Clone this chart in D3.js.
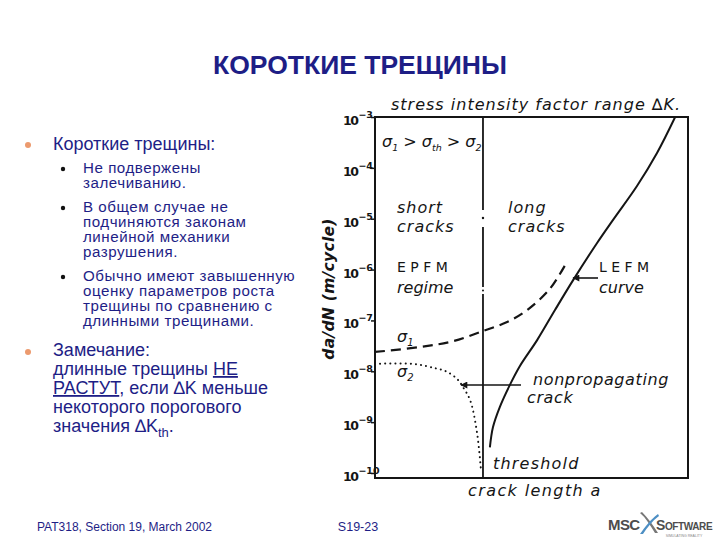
<!DOCTYPE html>
<html><head><meta charset="utf-8">
<script src="https://cdn.jsdelivr.net/npm/d3@7/dist/d3.min.js"></script>
<style>body{margin:0;background:#fff}svg{display:block}</style>
</head><body>
<svg id="c" width="720" height="540"></svg>
<script>
// ---- data ----
const yTicks = [1e-3, 1e-4, 1e-5, 1e-6, 1e-7, 1e-8, 1e-9, 1e-10];
const yTickExp = ["−3", "−4", "−5", "−6", "−7", "−8", "−9", "−10"];
const thresholdA = 34.5;
const lefmA    = [36.7, 37.7, 39.9, 43.1, 46.3, 51.8, 57.5, 63.3, 70.9, 76.0, 83.7, 90.1, 95.9];
const lefmRate = [3.2e-10, 8.0e-10, 2.0e-9, 5.4e-9, 1.27e-8, 4.1e-8, 1.6e-7, 6.2e-7, 3.3e-6, 9.4e-6, 4.4e-5, 1.96e-4, 1e-3];
const sigma1A    = [0, 14.4, 24.9, 34.5, 42.2, 48.6, 55.9, 61.3];
const sigma1Rate = [2.4e-8, 3.0e-8, 3.9e-8, 6.2e-8, 9.3e-8, 1.6e-7, 4.2e-7, 1.41e-6];
const sigma2A    = [0, 12.1, 19.2, 23.0, 26.5, 28.1, 30.4, 32.6, 33.9];
const sigma2Rate = [1.4e-8, 1.4e-8, 1.15e-8, 9.8e-9, 6.8e-9, 4.9e-9, 2.7e-9, 6.2e-10, 1.05e-10];

const svg = d3.select("#c");
const navy = "#1e1e86";
const ink = "#151515";

// ---- title ----
svg.append("text").attr("x", 360).attr("y", 74).attr("text-anchor", "middle")
  .attr("font-family", "Liberation Sans, Arial, sans-serif").attr("font-weight", "bold")
  .attr("font-size", 26.5).attr("fill", navy).text("КОРОТКИЕ ТРЕЩИНЫ");

// ---- left bullets ----
const bodyFont = "Liberation Sans, Arial, sans-serif";
function bullet(x, y, r, color) {
  svg.append("circle").attr("cx", x).attr("cy", y).attr("r", r).attr("fill", color);
}
bullet(28, 145, 3, "#ec9a6e");
svg.append("text").attr("x", 53).attr("y", 150).attr("font-family", bodyFont)
  .attr("font-size", 18).attr("fill", navy).text("Короткие трещины:");
const sub = [
  [173, ["Не подвержены", "залечиванию."]],
  [212, ["В общем случае не", "подчиняются законам", "линейной механики", "разрушения."]],
  [281, ["Обычно имеют завышенную", "оценку параметров роста", "трещины по сравнению с", "длинными трещинами."]]
];
sub.forEach(([y0, lines]) => {
  bullet(63, y0 - 4, 2.2, "#111");
  lines.forEach((t, i) => {
    svg.append("text").attr("transform", `translate(83,${y0 + i * 15}) scale(1.08,1)`)
      .attr("font-family", bodyFont).attr("font-size", 14).attr("letter-spacing", 0.5)
      .attr("fill", navy).text(t);
  });
});
bullet(28, 352, 3, "#ec9a6e");
const nb = svg.append("g").attr("font-family", bodyFont).attr("font-size", 18).attr("fill", navy);
nb.append("text").attr("x", 53).attr("y", 356).text("Замечание:");
let t2 = nb.append("text").attr("x", 53).attr("y", 375);
t2.append("tspan").text("длинные трещины ");
t2.append("tspan").attr("text-decoration", "underline").text("НЕ");
let t3 = nb.append("text").attr("x", 53).attr("y", 394);
t3.append("tspan").attr("text-decoration", "underline").text("РАСТУТ");
t3.append("tspan").text(", если ∆K меньше");
nb.append("text").attr("x", 53).attr("y", 413).text("некоторого порогового");
let t5 = nb.append("text").attr("x", 53).attr("y", 432);
t5.append("tspan").text("значения  ∆K");
t5.append("tspan").attr("font-size", 13).attr("dy", 5).text("th");
t5.append("tspan").attr("dy", -5).text(".");

// ---- chart ----
const x = d3.scaleLinear().domain([0, 100]).range([375, 688]);
const y = d3.scaleLog().domain([1e-10, 1e-3]).range([473, 117]);
const g = svg.append("g");
const yTop = y(1e-3), yBot = y(1e-10) + 5;

g.append("rect").attr("x", x(0)).attr("y", yTop).attr("width", x(100) - x(0))
  .attr("height", yBot - yTop).attr("fill", "none").attr("stroke", ink).attr("stroke-width", 2);

// y axis ticks
const yAxis = d3.axisLeft(y).tickValues(yTicks).tickSize(4).tickFormat("");
const ya = g.append("g").attr("transform", `translate(${x(0)},0)`).call(yAxis);
ya.select(".domain").remove();
ya.selectAll(".tick line").attr("stroke", ink).attr("stroke-width", 1.5);
const tl = g.append("g").attr("font-family", "DejaVu Sans, sans-serif").attr("font-weight", "bold").attr("fill", ink);
yTicks.forEach((v, i) => {
  const t = tl.append("text").attr("x", 343).attr("y", y(v) + 8).attr("font-size", 12.5);
  t.append("tspan").attr("letter-spacing", -1.5).text("10");
  t.append("tspan").attr("dx", 1).attr("dy", -7).attr("font-size", 9.5).text(yTickExp[i]);
});

// threshold vertical line (dash-dot breaks)
const thX = x(thresholdA);
[[yTop, 210], [227, 287], [294, yBot]].forEach(([a, b]) => {
  g.append("line").attr("x1", thX).attr("x2", thX).attr("y1", a).attr("y2", b)
    .attr("stroke", ink).attr("stroke-width", 1.8);
});
g.append("circle").attr("cx", thX).attr("cy", 218).attr("r", 1.2).attr("fill", ink);
g.append("circle").attr("cx", thX).attr("cy", 290.5).attr("r", 1).attr("fill", ink);

const line = d3.line().x(d => x(d[0])).y(d => y(d[1])).curve(d3.curveCatmullRom.alpha(0.5));
g.append("path").datum(d3.zip(lefmA, lefmRate)).attr("d", line)
  .attr("fill", "none").attr("stroke", ink).attr("stroke-width", 2);
g.append("path").datum(d3.zip(sigma1A, sigma1Rate)).attr("d", line)
  .attr("fill", "none").attr("stroke", ink).attr("stroke-width", 2.2).attr("stroke-dasharray", "10,6");
g.append("path").datum(d3.zip(sigma2A, sigma2Rate)).attr("d", line)
  .attr("fill", "none").attr("stroke", ink).attr("stroke-width", 2).attr("stroke-linecap", "round")
  .attr("stroke-dasharray", "0.1,5");

// arrows
svg.append("defs").append("marker").attr("id", "ah").attr("viewBox", "0 0 10 10")
  .attr("refX", 9).attr("refY", 5).attr("markerWidth", 9).attr("markerHeight", 7)
  .attr("markerUnits", "userSpaceOnUse").attr("orient", "auto")
  .append("path").attr("d", "M0,0 L10,5 L0,10 Z").attr("fill", ink);
g.append("line").attr("x1", 598).attr("y1", 278).attr("x2", 573).attr("y2", 278)
  .attr("stroke", ink).attr("stroke-width", 1.6).attr("marker-end", "url(#ah)");
g.append("line").attr("x1", 521).attr("y1", 385).attr("x2", 461).attr("y2", 385)
  .attr("stroke", ink).attr("stroke-width", 1.6).attr("marker-end", "url(#ah)");

// annotations
const ann = g.append("g").attr("font-family", "DejaVu Sans, sans-serif").attr("font-style", "italic")
  .attr("fill", ink).attr("font-size", 16);
function txt(xp, yp, s, extra) {
  const t = ann.append("text").attr("x", xp).attr("y", yp).text(s);
  if (extra) extra(t);
  return t;
}
txt(391, 110, "stress intensity factor range ∆K.", t => t.attr("letter-spacing", 1));
const sg = ann.append("text").attr("x", 382).attr("y", 147).attr("font-size", 16);
sg.append("tspan").text("σ");
sg.append("tspan").attr("dy", 4).attr("font-size", 9.5).text("1");
sg.append("tspan").attr("dy", -4).text(" > σ");
sg.append("tspan").attr("dy", 4).attr("font-size", 9.5).text("th");
sg.append("tspan").attr("dy", -4).text(" > σ");
sg.append("tspan").attr("dy", 4).attr("font-size", 9.5).text("2");
txt(397, 213, "short", t => t.attr("letter-spacing", 1)); txt(397, 232, "cracks", t => t.attr("letter-spacing", 1));
txt(508, 213, "long", t => t.attr("letter-spacing", 1)); txt(508, 232, "cracks", t => t.attr("letter-spacing", 1));
txt(397, 272, "E P F M", t => t.attr("font-style", "normal").attr("font-size", 14));
txt(397, 293, "regime");
txt(599, 272, "L E F M", t => t.attr("font-style", "normal").attr("font-size", 14));
txt(599, 293, "curve");
const s1 = ann.append("text").attr("x", 397).attr("y", 342).attr("font-size", 16);
s1.append("tspan").text("σ"); s1.append("tspan").attr("dy", 4).attr("font-size", 10).text("1");
const s2 = ann.append("text").attr("x", 397).attr("y", 377).attr("font-size", 16);
s2.append("tspan").text("σ"); s2.append("tspan").attr("dy", 4).attr("font-size", 10).text("2");
txt(533, 385, "nonpropagating", t => t.attr("letter-spacing", 0.6));
txt(527, 403, "crack", t => t.attr("letter-spacing", 0.6));
txt(493, 469, "threshold", t => t.attr("letter-spacing", 1.2));
txt(468, 496, "crack length  a", t => t.attr("letter-spacing", 1.4));
ann.append("text").attr("transform", "translate(334,289) rotate(-90)").attr("text-anchor", "middle")
  .attr("font-size", 15.5).attr("font-weight", "bold").attr("letter-spacing", 0.3).text("da/dN (m/cycle)");

// ---- footer ----
svg.append("text").attr("x", 37).attr("y", 531).attr("font-family", bodyFont).attr("font-size", 12)
  .attr("fill", navy).text("PAT318, Section 19, March 2002");
svg.append("text").attr("x", 358).attr("y", 531).attr("text-anchor", "middle").attr("font-family", bodyFont)
  .attr("font-size", 12.5).attr("fill", navy).text("S19-23");
const logo = svg.append("g").attr("fill", "#4d4d4d").attr("font-family", "Liberation Sans, Arial, sans-serif");
logo.append("text").attr("x", 608).attr("y", 530).attr("font-weight", "bold").attr("font-size", 15).attr("letter-spacing", -0.6).text("MSC");
logo.append("path").attr("d", "M640,513 C646,518 650,525 655,533 L658,533 C653,525 648,518 642,512 Z").attr("fill", "#777");
logo.append("path").attr("d", "M640,534 C645,527 650,520 658,514 L659,516 C652,521 647,528 643,534 Z").attr("fill", "#4d8fc4");
const sw = logo.append("text").attr("x", 656).attr("y", 530).attr("font-weight", "bold").attr("font-size", 14).attr("letter-spacing", -0.4);
sw.append("tspan").text("S"); sw.append("tspan").attr("font-size", 10).text("OFTWARE");
logo.append("text").attr("x", 684).attr("y", 537).attr("text-anchor", "middle").attr("font-size", 3.5).attr("fill", "#888").text("SIMULATING REALITY");
</script>
</body></html>
